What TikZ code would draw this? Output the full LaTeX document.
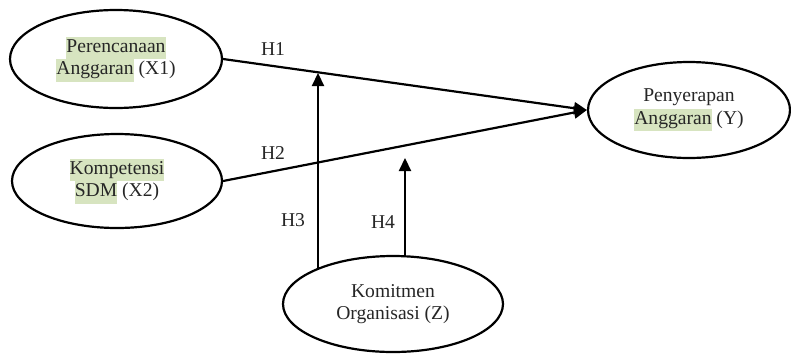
\documentclass[tikz,border=0pt]{standalone}
\usepackage{fontspec}
\setmainfont{Liberation Serif}
\usetikzlibrary{shapes.geometric,arrows.meta}
\definecolor{hlgreen}{HTML}{D7E4C0}
\definecolor{txt}{HTML}{262626}
\newcommand\hlt[1]{{\setlength\fboxsep{0pt}\colorbox{hlgreen}{\strut #1}}}
\tikzset{
  var/.style={ellipse, draw=black, line width=2.2pt, inner sep=0pt, text=txt,
    align=center, font=\fontsize{19.6}{22.5}\selectfont},
  conn/.style={line width=2.2pt, -{Triangle[length=13pt,width=12pt]}},
  lab/.style={text=txt, font=\fontsize{19.6}{22.5}\selectfont, inner sep=0pt}
}
\begin{document}
\begin{tikzpicture}[x=1pt,y=-1pt]
\useasboundingbox (0,0) rectangle (791,354);
\node[var, minimum width=212pt, minimum height=98pt] (x1) at (116,59)
  {\hlt{Perencanaan}\\\hlt{Anggaran} (X1)};
\node[var, minimum width=210pt, minimum height=94pt] (x2) at (117,181)
  {\hlt{Kompetensi}\\\hlt{SDM} (X2)};
\node[var, minimum width=202pt, minimum height=96pt] (y) at (689,110)
  {Penyerapan\\\hlt{Anggaran} (Y)};
\node[var, minimum width=220pt, minimum height=96pt] (z) at (393,304)
  {Komitmen\\Organisasi (Z)};
\coordinate (h3top) at (318,73);
\coordinate (h3bot) at (318,270);
\coordinate (h4top) at (405,158);
\coordinate (h4bot) at (405,257);
\draw[conn] (x1.east) -- (y.west);
\draw[conn] (x2.east) -- (y.west);
\draw[conn] (h3bot) -- (h3top);
\draw[conn] (h4bot) -- (h4top);
\node[lab] (l1) at (273,49) {H1};
\node[lab] (l2) at (273,153) {H2};
\node[lab] (l3) at (293,220) {H3};
\node[lab] (l4) at (383,222) {H4};
\end{tikzpicture}
\end{document}
